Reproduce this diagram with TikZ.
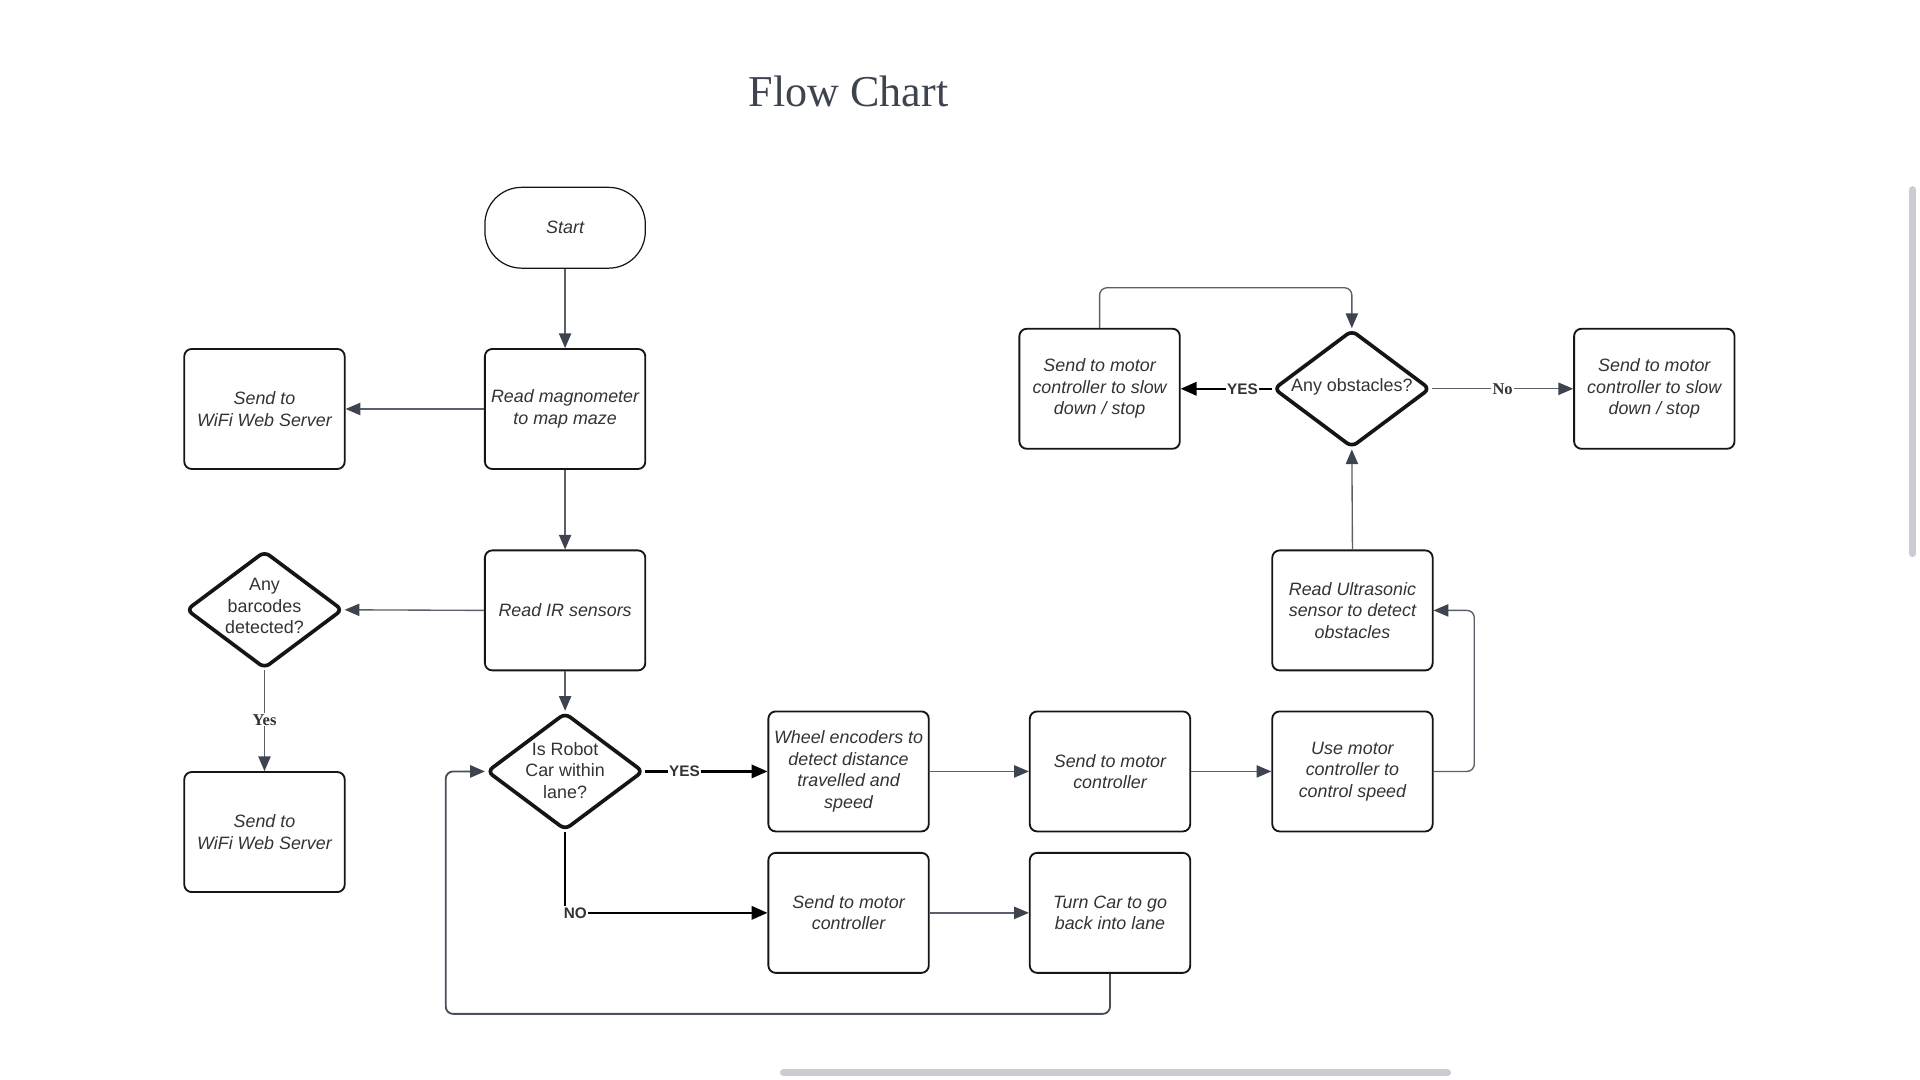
\documentclass[tikz,border=0pt]{standalone}
\usepackage{fontspec}
\setmainfont{Liberation Serif}
\setsansfont{Liberation Sans}
\usetikzlibrary{shapes.geometric,arrows.meta,calc}
\definecolor{txt}{HTML}{333333}
\definecolor{ttl}{HTML}{3D4450}
\definecolor{lnc}{HTML}{5A6069}
\definecolor{loopc}{HTML}{48505B}
\definecolor{tipc}{HTML}{3D4450}
\definecolor{bord}{HTML}{151515}
\definecolor{scr}{HTML}{C9CCD2}
\begin{document}
\begin{tikzpicture}[x=1pt,y=-1pt,
 box/.style={draw=bord, line width=1.5pt, rounded corners=6pt, minimum width=131pt, minimum height=98pt, align=center, text=txt, font=\sffamily\itshape\fontsize{14.6}{17.5}\selectfont, inner sep=0pt},
 startbox/.style={draw=bord, line width=1pt, rounded corners=30pt, minimum width=131pt, minimum height=66pt, align=center, text=txt, font=\sffamily\itshape\fontsize{14.6}{17.5}\selectfont, inner sep=0pt},
 dshape/.style={draw=bord, line width=3pt, diamond, rounded corners=5pt, minimum width=128pt, minimum height=96pt, inner sep=0pt},
 dtext/.style={align=center, text=txt, font=\sffamily\fontsize{14.6}{17.5}\selectfont, inner sep=0pt},
 conn/.style={draw=lnc, line width=1.1pt, -{Triangle[length=12pt,width=10pt,color=tipc]}},
 loopconn/.style={draw=loopc, line width=1.5pt, rounded corners=6pt, -{Triangle[length=12pt,width=10pt,color=tipc]}},
 boldconn/.style={draw=black, line width=1.8pt, -{Triangle[length=13pt,width=11pt,color=black]}},
 lbls/.style={fill=white, text=txt, font=\sffamily\bfseries\fontsize{12.5}{14}\selectfont, inner sep=1pt},
 lblr/.style={fill=white, text=txt, font=\rmfamily\bfseries\fontsize{13.5}{15}\selectfont, inner sep=1pt},
 scrollbar/.style={draw=scr, line width=6pt, line cap=round},
]
\useasboundingbox[fill=white] (0,0) rectangle (1568,882);

% title
\node[text=ttl, font=\rmfamily\fontsize{36}{40}\selectfont] (title) at (693,75) {Flow Chart};

% boxes
\node[startbox] (start) at (461.5,186) {Start};
\node[box] (mag) at (461.5,334) {Read magnometer\\to map maze};
\node[box] (wifi1) at (216,334) {Send to\\WiFi Web Server};
\node[box] (ir) at (461.5,498.5) {Read IR sensors};
\node[box] (wifi2) at (216,679.5) {Send to\\WiFi Web Server};
\node[box] (wheel) at (693,630) {Wheel encoders to\\detect distance\\travelled and\\speed};
\node[box] (sm1) at (906.5,630) {Send to motor\\controller};
\node[box] (use) at (1104.5,630) {Use motor\\controller to\\control speed};
\node[box] (ultra) at (1104.5,498.5) {Read Ultrasonic\\sensor to detect\\obstacles};
\node[box] (slowL) at (898,317.5) {Send to motor\\controller to slow\\down / stop};
\node[box] (slowR) at (1351,317.5) {Send to motor\\controller to slow\\down / stop};
\node[box] (sm2) at (693,745.5) {Send to motor\\controller};
\node[box] (turn) at (906.5,745.5) {Turn Car to go\\back into lane};

% diamonds
\node[dshape] (barc) at (216,498) {};
\node[dtext] (barct) at (216,495) {Any\\barcodes\\detected?};
\node[dshape] (robot) at (461.5,630) {};
\node[dtext] (robott) at (461.5,629) {Is Robot\\Car within\\lane?};
\node[dshape] (obst) at (1104,317.5) {};
\node[dtext] (obstt) at (1104,316) {Any obstacles?};

% loop coordinates
\coordinate (rloop) at (1204,630);
\coordinate (bloop) at (364,828);
\coordinate (tloop) at (898,235);

% connectors
\draw[conn] (start.south) -- (mag.north);
\draw[conn] (mag.west) -- (wifi1.east);
\draw[conn] (mag.south) -- (ir.north);
\draw[conn] (ir.west) -- (barc.east);
\draw[conn] (ir.south) -- (robot.north);
\draw[conn] (barc.south) -- node[lblr, pos=0.49] {Yes} (wifi2.north);
\draw[boldconn] (robot.east) -- node[lbls, pos=0.32] {YES} (wheel.west);
\draw[boldconn] (robot.south) |- node[lbls, pos=0.5, anchor=west, xshift=-3pt] {NO} (sm2.west);
\draw[conn] (wheel.east) -- (sm1.west);
\draw[conn] (sm1.east) -- (use.west);
\draw[conn, rounded corners=6pt] (use.east) -- (rloop) |- (ultra.east);
\draw[conn] (ultra.north) -- (obst.south);
\draw[boldconn] (obst.west) -- node[lbls, pos=0.32] {YES} (slowL.east);
\draw[conn] (obst.east) -- node[lblr, pos=0.5] {No} (slowR.west);
\draw[conn, rounded corners=6pt] (slowL.north) -- (tloop) -| (obst.north);
\draw[conn] (sm2.east) -- (turn.west);
\draw[loopconn] (turn.south) |- (bloop) |- (robot.west);

% scrollbars
\draw[scrollbar] (1562,155) -- (1562,452);
\draw[scrollbar] (640,876) -- (1182,876);
\end{tikzpicture}
\end{document}
